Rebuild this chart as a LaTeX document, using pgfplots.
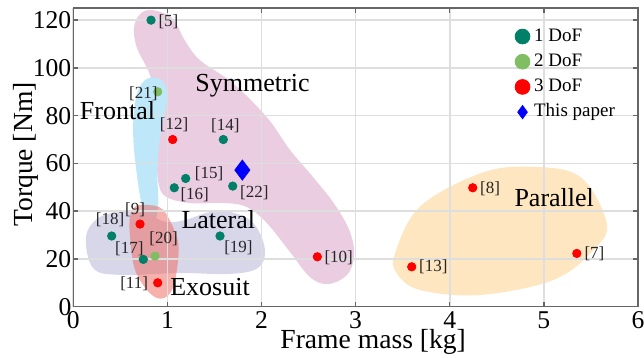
\documentclass[border=0pt]{standalone}
\usepackage{fontspec}
\setmainfont{Liberation Serif}
\usepackage{pgfplots}
\usepackage{pgfplotstable}
\pgfplotsset{compat=1.18}
\definecolor{c1}{RGB}{0,128,104}
\definecolor{c2}{RGB}{128,190,100}
\definecolor{c3}{RGB}{255,0,0}
\definecolor{symfill}{RGB}{234,205,224}
\definecolor{frontfill}{RGB}{190,232,250}
\definecolor{latfill}{RGB}{216,215,234}
\definecolor{exofill}{RGB}{240,100,90}
\definecolor{parfill}{RGB}{253,230,192}

\pgfplotstableread{
x y lab dx dy
0.826 120.0 5 8.7 -0.8
1.594 70.0 14 1.0 7.0
1.194 53.7 15 11.7 2.5
1.073 49.8 16 10.2 -3.7
1.694 50.5 22 10.8 -3.3
0.408 29.6 18 -0.8 8.0
1.559 29.6 19 9.2 -5.7
0.744 19.8 17 -7.0 5.5
}\dofone
\pgfplotstableread{
x y lab dx dy
0.897 90.0 21 -7.2 -0.8
0.868 21.2 20 4.3 8.8
}\doftwo
\pgfplotstableread{
x y lab dx dy
1.056 70.0 12 0.7 7.5
0.709 34.6 9 -2.5 7.3
0.897 10.0 11 -11.8 -0.3
2.593 20.9 10 10.7 -0.3
4.244 49.8 8 8.7 -0.3
3.596 16.7 13 10.8 0
5.35 22.3 7 8.8 -0.3
}\dofthree

\pgfplotsset{
  dots/.style={only marks, mark=*, mark size=2.1pt, forget plot,
    point meta=explicit symbolic,
    visualization depends on={\thisrow{dx}\as\ldx},
    visualization depends on={\thisrow{dy}\as\ldy},
    nodes near coords={[\pgfplotspointmeta]},
    nodes near coords style={anchor=center, xshift=\ldx pt, yshift=\ldy pt,
      font=\fontsize{8.5}{10}\selectfont, text=black!85, inner sep=0pt}},
  region/.style={draw=none, smooth cycle, tension=0.6, forget plot, on layer=axis background},
}

\begin{document}
\begin{tikzpicture}
\begin{axis}[
  set layers,
  at={(0pt,0pt)}, anchor=south west,
  scale only axis, width=282.35pt, height=149.25pt,
  xmin=0, xmax=6, ymin=0, ymax=125,
  xtick={0,1,2,3,4,5,6}, ytick={0,20,40,60,80,100,120},
  grid=major, grid style={line width=0.8pt, color=black!13},
  axis line style={line width=0.7pt, color=black!60},
  tick style={line width=0.7pt, color=black!60},
  major tick length=2.5pt, tick align=inside,
  xtick pos=both, ytick pos=both,
  xticklabel pos=lower, yticklabel pos=left,
  /pgf/number format/assume math mode=true,
  ticklabel style={font=\fontsize{12.8}{14}\selectfont},
  xticklabel style={inner sep=0pt, yshift=-2.4pt},
  yticklabel style={inner sep=0pt, xshift=-0.8pt},
  xlabel={Frame mass [kg]}, ylabel={Torque [Nm]},
  label style={font=\fontsize{13.8}{16}\selectfont},
  xlabel style={at={(axis description cs:0.531,-0.139)}, anchor=base, inner sep=0pt},
  ylabel style={at={(axis description cs:-0.0714,0.51)}, anchor=base, inner sep=0pt},
  legend cell align=left,
  legend style={at={(axis description cs:0.781,0.950)}, anchor=north west,
    draw=none, fill=none, inner sep=0pt,
    font=\fontsize{9.5}{11}\selectfont,
    nodes={inner sep=1.9pt, text height=7pt, text depth=2.2pt}, row sep=-0.4pt},
]
% regions
\addplot[region, fill=parfill] coordinates {
(3.419,22.4) (3.684,41.9) (4.322,55.8) (4.853,58.6) (5.385,54.4) (5.668,34.9)
(5.526,23.7) (5.101,11.2) (4.322,4.9) (3.684,7.0) (3.437,14.0)};
\addplot[region, fill=symfill] coordinates {
(0.836,124.2) (1.049,120.9) (1.184,111.6) (1.344,103.3) (1.695,93.6) (2.057,79.3)
(2.303,65.6) (2.547,54.3) (2.781,42.6) (2.940,31.3) (2.983,21.2) (2.908,13.3)
(2.706,9.5) (2.515,12.4) (2.303,22.9) (2.057,35.0) (1.846,41.7) (1.612,43.4)
(1.240,43.4) (0.975,46.3) (0.900,53.0) (0.889,65.6) (0.900,82.4) (0.815,97.0)
(0.677,108.3) (0.645,116.7) (0.709,122.5)};
\addplot[region, fill=frontfill] coordinates {
(0.850,96.0) (0.956,94.2) (0.999,87.9) (0.956,78.2) (0.914,68.4) (0.893,55.8)
(0.903,43.3) (0.868,36.3) (0.762,36.3) (0.716,44.7) (0.674,55.8) (0.638,69.8)
(0.645,82.3) (0.691,90.7) (0.762,94.9)};
\addplot[region, fill=latfill] coordinates {
(0.135,29.2) (0.262,37.1) (0.496,39.6) (0.762,39.2) (0.975,35.5) (1.19,36.3)
(1.453,39.6) (1.718,39.2) (1.93,34.2) (2.037,23.7) (1.962,16.2) (1.665,13.7)
(1.134,14.1) (0.496,13.3) (0.210,16.2)};
\addplot[region, fill=exofill, fill opacity=0.5] coordinates {
(0.780,42.6) (0.956,40.5) (1.099,29.3) (1.116,20.9) (1.063,8.4) (0.956,3.5)
(0.815,5.6) (0.656,15.4) (0.603,29.3) (0.603,37.7) (0.656,41.9)};
% region labels
\node[anchor=base, font=\fontsize{13}{15}\selectfont] at (axis cs:1.904,90.0) {Symmetric};
\node[anchor=base, font=\fontsize{13}{15}\selectfont] at (axis cs:0.470,78.4) {Frontal};
\node[anchor=base, font=\fontsize{13}{15}\selectfont] at (axis cs:1.541,32.8) {Lateral};
\node[anchor=base, font=\fontsize{13}{15}\selectfont] at (axis cs:1.453,4.5) {Exosuit};
\node[anchor=base, font=\fontsize{13}{15}\selectfont] at (axis cs:5.11,41.9) {Parallel};
% data
\addplot[dots, color=c1] table[x=x, y=y, meta=lab] {\dofone};
\addplot[dots, color=c2] table[x=x, y=y, meta=lab] {\doftwo};
\addplot[dots, color=c3] table[x=x, y=y, meta=lab] {\dofthree};
\addplot[only marks, mark=diamond*, mark size=5pt, color=blue, forget plot] coordinates {(1.796,57.2)};
% legend
\addlegendimage{legend image code/.code={\fill[c1] (3.7pt,0pt) circle[radius=3.7pt];}}
\addlegendentry{1 DoF}
\addlegendimage{legend image code/.code={\fill[c2] (3.7pt,0pt) circle[radius=3.7pt];}}
\addlegendentry{2 DoF}
\addlegendimage{legend image code/.code={\fill[c3] (3.7pt,0pt) circle[radius=3.7pt];}}
\addlegendentry{3 DoF}
\addlegendimage{legend image code/.code={\fill[blue] (3.7pt,3.3pt)--(6.1pt,0pt)--(3.7pt,-3.3pt)--(1.3pt,0pt)--cycle;}}
\addlegendentry{This paper}
\end{axis}
\pgfresetboundingbox
\path[use as bounding box] (-36.65pt,-25.65pt) rectangle (285.35pt,153.35pt);
\end{tikzpicture}
\end{document}
